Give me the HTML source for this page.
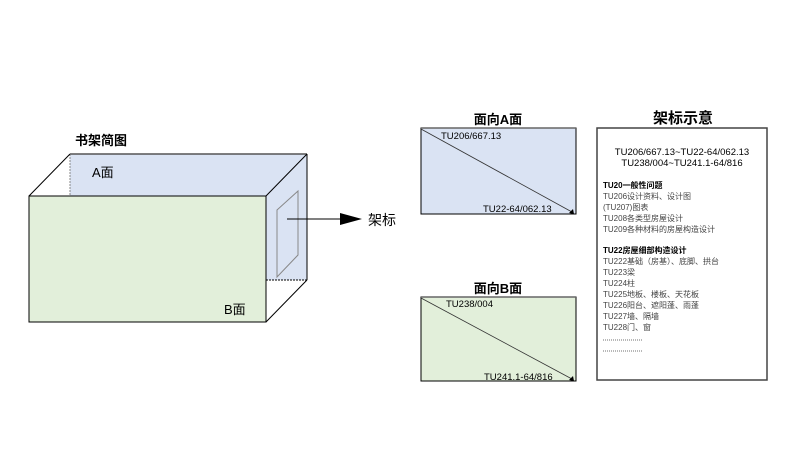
<!DOCTYPE html>
<html><head><meta charset="utf-8"><style>
body{margin:0;background:#fff;}
svg text{font-family:"Liberation Sans","Noto Sans CJK SC",sans-serif;}
</style></head><body>
<svg width="800" height="450" viewBox="0 0 800 450" xmlns="http://www.w3.org/2000/svg">
<rect width="800" height="450" fill="#fff"/>
<text x="75" y="145" font-size="13" font-weight="bold">书架简图</text>
<polygon points="70,154 307,154 307,280 266,280 266,196 70,196" fill="#dae3f3"/>
<line x1="70" y1="154" x2="307" y2="154" stroke="#555" stroke-width="1.5"/>
<line x1="70" y1="154" x2="70" y2="196" stroke="#888" stroke-dasharray="2,1"/>
<line x1="29" y1="196" x2="70" y2="154" stroke="#000"/>
<line x1="266" y1="196" x2="307" y2="154" stroke="#000"/>
<line x1="307" y1="154" x2="307" y2="280" stroke="#000"/>
<line x1="266" y1="322" x2="307" y2="280" stroke="#000"/>
<line x1="266" y1="280" x2="307" y2="280" stroke="#000" stroke-dasharray="2,1"/>
<text x="92" y="177" font-size="13">A面</text>
<rect x="29" y="196" width="237" height="126" fill="#e2efda" stroke="#000"/>
<text x="224" y="314" font-size="13">B面</text>
<polygon points="277,210 298,191 298,255 277,277" fill="none" stroke="#888"/>
<line x1="287" y1="219" x2="342" y2="219" stroke="#000"/>
<polygon points="340,213 362,219 340,225" fill="#000"/>
<text x="368" y="225" font-size="14">架标</text>
<text x="498" y="124" font-size="13" font-weight="bold" text-anchor="middle">面向A面</text>
<rect x="421" y="128" width="155" height="86" fill="#dae3f3" stroke="#000"/>
<line x1="421" y1="128" x2="576" y2="128" stroke="#666" stroke-width="1.5"/>
<line x1="421" y1="129" x2="572" y2="212" stroke="#333" stroke-width="0.8"/>
<polygon points="569,213 573,209 574,214" fill="#000"/>
<text x="441" y="139" font-size="9.5">TU206/667.13</text>
<text x="483" y="212" font-size="9.5">TU22-64/062.13</text>
<text x="498" y="293" font-size="13" font-weight="bold" text-anchor="middle">面向B面</text>
<rect x="421" y="297" width="155" height="84" fill="#e2efda" stroke="#000"/>
<line x1="421" y1="297" x2="576" y2="297" stroke="#666" stroke-width="1.5"/>
<line x1="421" y1="298" x2="572" y2="379" stroke="#333" stroke-width="0.8"/>
<polygon points="569,380 573,376 574,381" fill="#000"/>
<text x="446" y="307" font-size="9.5">TU238/004</text>
<text x="484" y="380" font-size="9.5">TU241.1-64/816</text>
<text x="683" y="123" font-size="15" font-weight="bold" text-anchor="middle">架标示意</text>
<rect x="597" y="128" width="170" height="252" fill="#fff" stroke="#444" stroke-width="1.5"/>
<text x="682" y="155" font-size="9.5" text-anchor="middle">TU206/667.13~TU22-64/062.13</text>
<text x="682" y="166" font-size="9.5" text-anchor="middle">TU238/004~TU241.1-64/816</text>
<g font-size="8" fill="#444">
<text x="603" y="188" font-weight="bold" fill="#000">TU20一般性问题</text>
<text x="603" y="199">TU206设计资料、设计图</text>
<text x="603" y="210">(TU207)图表</text>
<text x="603" y="221">TU208各类型房屋设计</text>
<text x="603" y="232">TU209各种材料的房屋构造设计</text>
<text x="603" y="253" font-weight="bold" fill="#000">TU22房屋细部构造设计</text>
<text x="603" y="264">TU222基础（房基）、底脚、拱台</text>
<text x="603" y="275">TU223梁</text>
<text x="603" y="286">TU224柱</text>
<text x="603" y="297">TU225地板、楼板、天花板</text>
<text x="603" y="308">TU226阳台、遮阳蓬、雨蓬</text>
<text x="603" y="319">TU227墙、隔墙</text>
<text x="603" y="330">TU228门、窗</text>
<line x1="603" y1="340" x2="642" y2="340" stroke="#444" stroke-width="0.8" stroke-dasharray="1,1"/>
<line x1="603" y1="351" x2="642" y2="351" stroke="#444" stroke-width="0.8" stroke-dasharray="1,1"/>
</g>
</svg>
</body></html>
